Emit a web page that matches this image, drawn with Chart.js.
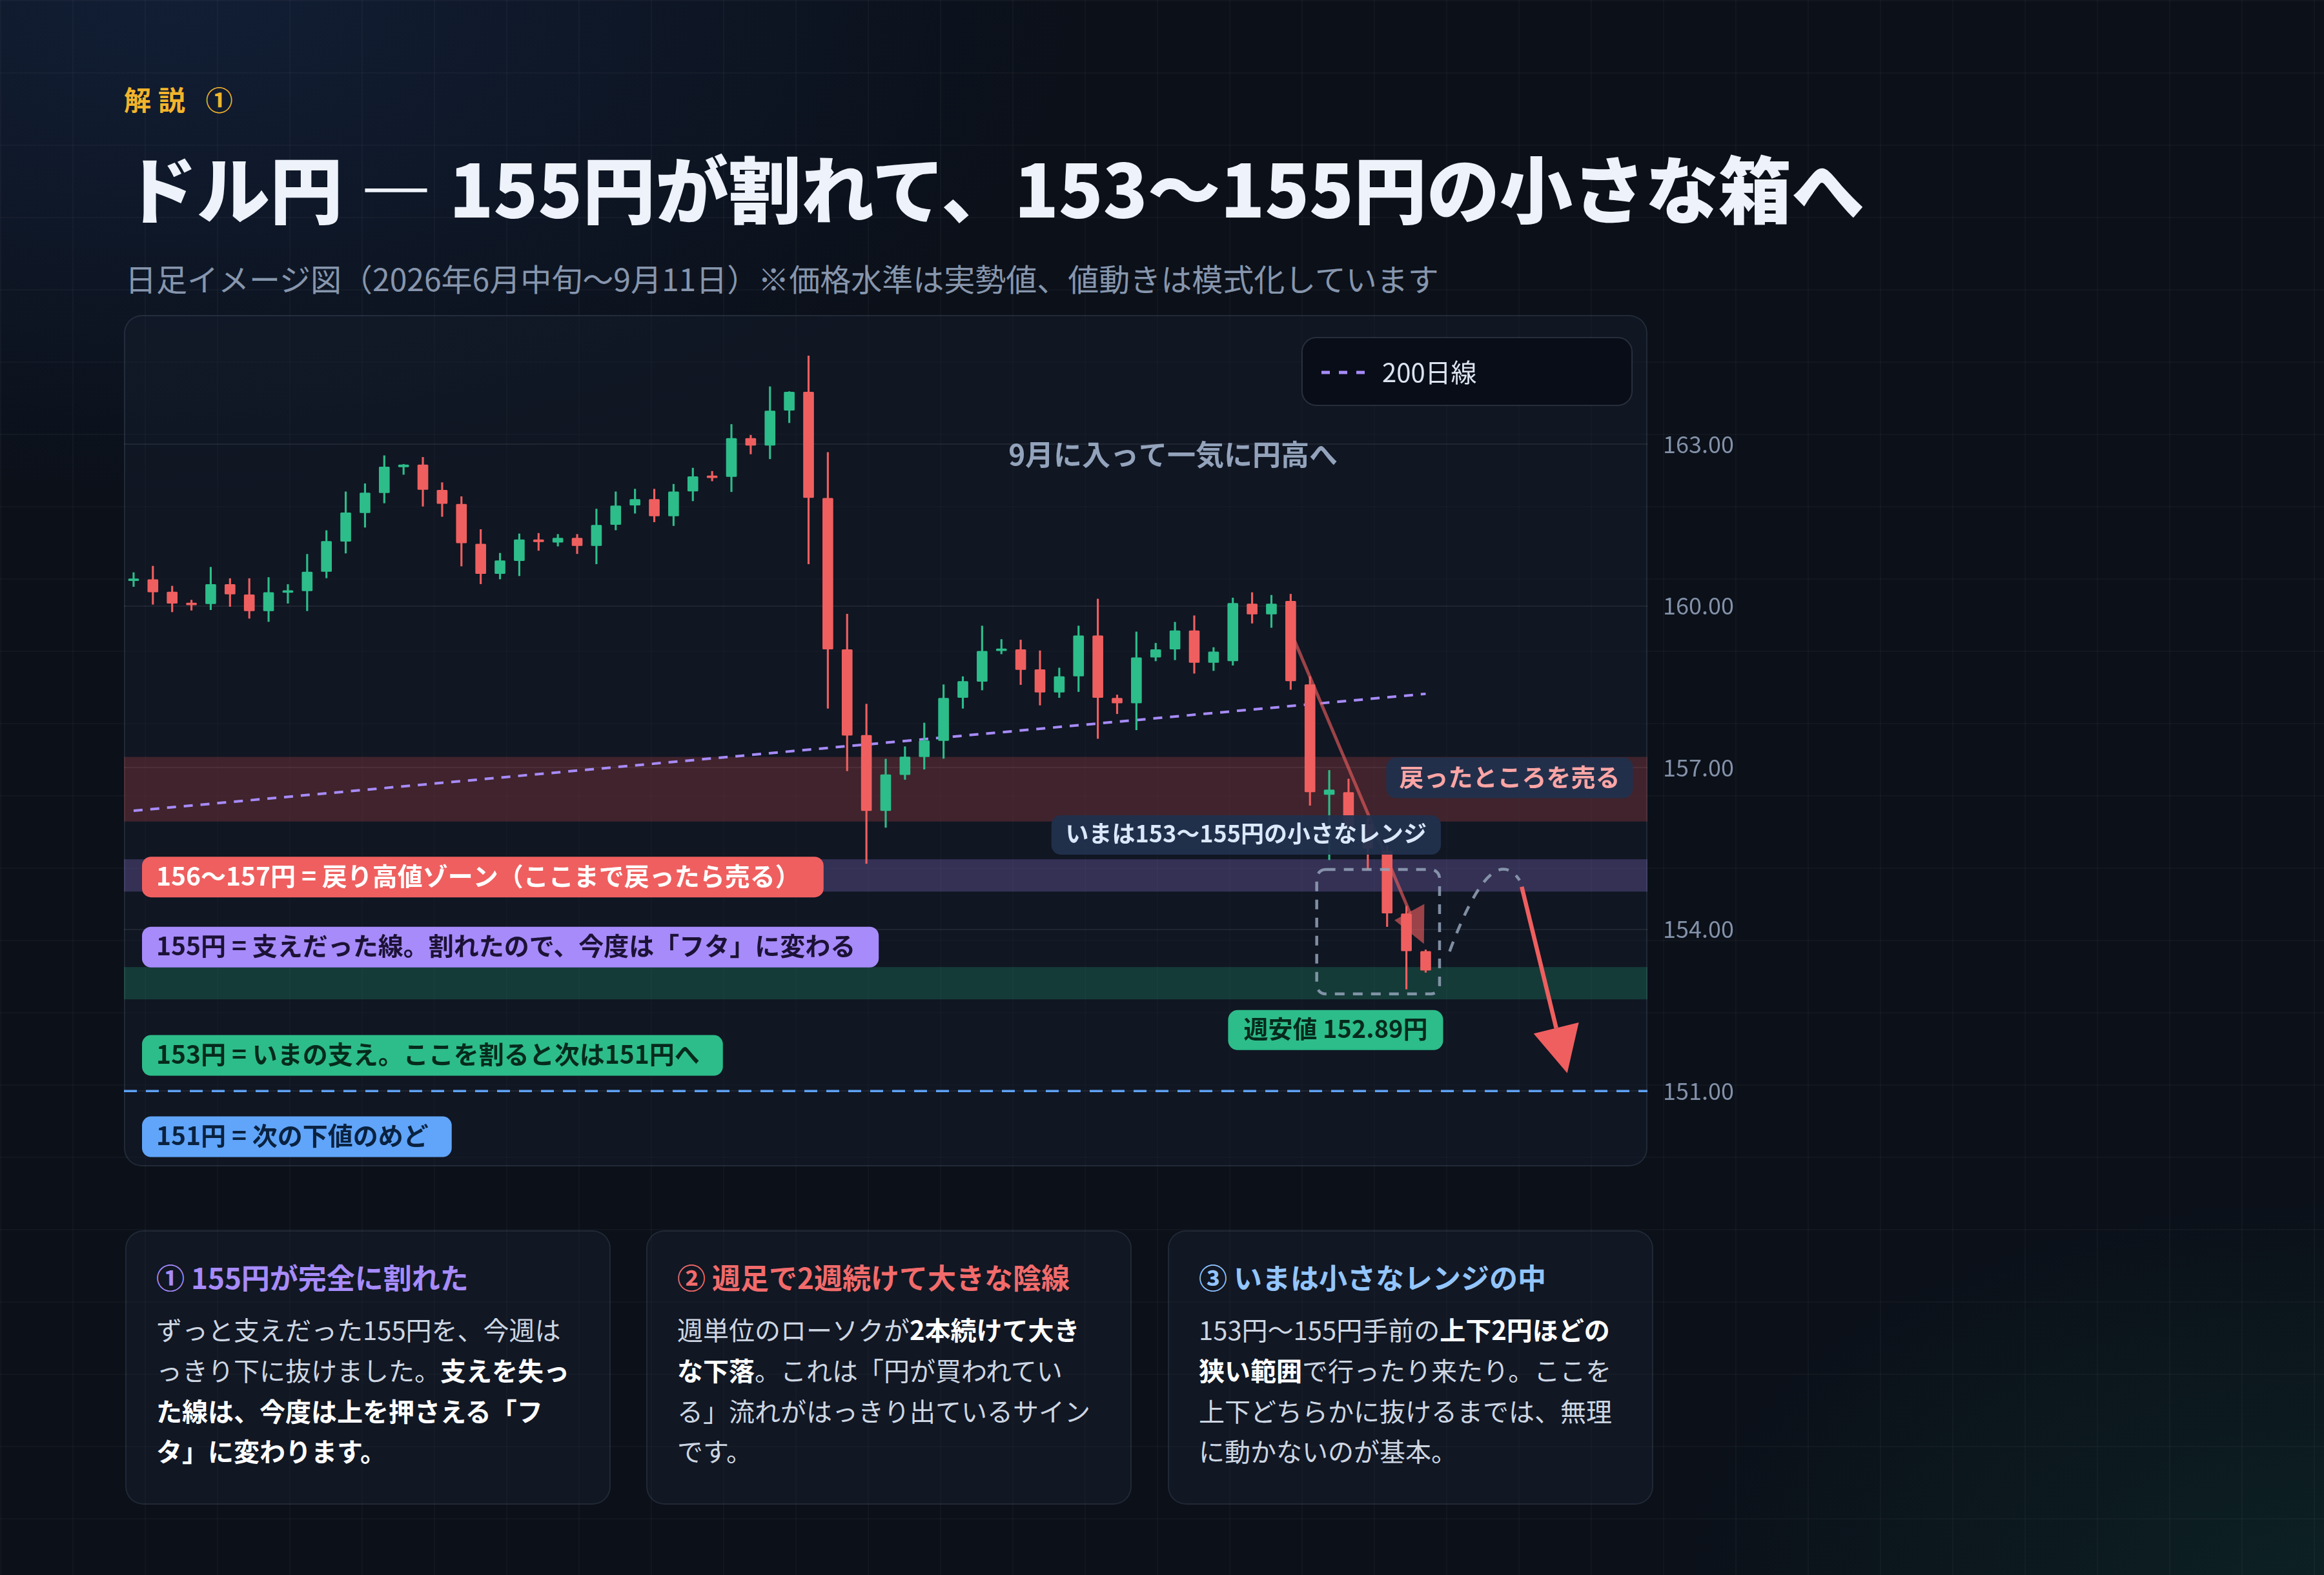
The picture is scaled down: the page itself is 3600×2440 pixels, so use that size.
<!DOCTYPE html>
<html lang="ja">
<head>
<meta charset="utf-8">
<title>ドル円 日足イメージ</title>
<script src="https://cdn.jsdelivr.net/npm/chart.js@4.4.1/dist/chart.umd.min.js"></script>
<style>
html, body { margin: 0; padding: 0; }
body {
    width: 3600px; height: 2440px; overflow: hidden; position: relative;
    font-family: "Noto Sans CJK JP", "Noto Sans", sans-serif;
    background-color: #0b1019;
    background-image:
        linear-gradient(rgba(255,255,255,0.028) 2px, transparent 2px),
        linear-gradient(90deg, rgba(255,255,255,0.028) 2px, transparent 2px),
        radial-gradient(ellipse 55% 45% at 8% 0%, rgba(40,80,150,0.22), transparent 70%),
        radial-gradient(ellipse 40% 35% at 100% 100%, rgba(20,120,90,0.16), transparent 70%);
    background-size: 112px 112px, 112px 112px, 100% 100%, 100% 100%;
}
.kicker { position: absolute; left: 192px; top: 132px; font-size: 42px; line-height: 42px; font-weight: 700; color: #f2b42c; letter-spacing: 11px; white-space: nowrap; }
.title { position: absolute; left: 192px; top: 232px; font-size: 113px; line-height: 113px; font-weight: 900; color: #eef2fa; white-space: nowrap; }
.sub { position: absolute; left: 194px; top: 406px; font-size: 48px; line-height: 48px; color: #8796ad; white-space: nowrap; }
.panel { position: absolute; left: 192px; top: 488px; width: 2360px; height: 1319px; box-sizing: border-box;
    border: 2px solid rgba(148,163,184,0.14); border-radius: 28px; background: rgba(22,30,46,0.45); }
.chartbox { position: absolute; left: 192px; top: 488px; width: 2568px; height: 1319px; }
.card { position: absolute; top: 1906px; width: 752px; height: 425px; box-sizing: border-box;
    border: 2px solid rgba(148,163,184,0.13); border-radius: 28px; background: rgba(30,38,54,0.35); }
.card .ch { position: absolute; left: 46px; top: 48px; font-size: 44px; line-height: 44px; font-weight: 700; white-space: nowrap; }
.card .cb { position: absolute; left: 46px; top: 120px; font-size: 40px; line-height: 62.8px; color: #cdd6e2; white-space: nowrap; }
.card .cb b { color: #ffffff; font-weight: 700; }
</style>
</head>
<body>
<div class="kicker">解説 ①</div>
<div class="title">ドル円 — 155円が割れて、153〜155円の小さな箱へ</div>
<div class="sub">日足イメージ図（2026年6月中旬〜9月11日）※価格水準は実勢値、値動きは模式化しています</div>

<div class="panel"></div>
<div class="chartbox"><canvas id="usdJpyDailyChart"></canvas></div>

<div class="card" style="left:194px">
    <div class="ch" style="color:#a78bfa">① 155円が完全に割れた</div>
    <div class="cb">ずっと支えだった155円を、今週は<br>っきり下に抜けました。<b>支えを失っ<br>た線は、今度は上を押さえる「フ<br>タ」に変わります。</b></div>
</div>
<div class="card" style="left:1001px">
    <div class="ch" style="color:#f26b6b">② 週足で2週続けて大きな陰線</div>
    <div class="cb">週単位のローソクが<b>2本続けて大き<br>な下落</b>。これは「円が買われてい<br>る」流れがはっきり出ているサイン<br>です。</div>
</div>
<div class="card" style="left:1809px">
    <div class="ch" style="color:#93c5fd">③ いまは小さなレンジの中</div>
    <div class="cb">153円〜155円手前の<b>上下2円ほどの<br>狭い範囲</b>で行ったり来たり。ここを<br>上下どちらかに抜けるまでは、無理<br>に動かないのが基本。</div>
</div>

<script>
// daily sessions, plus blank future days on the right
var dates = ['6/10','6/11','6/12','6/15','6/16','6/17','6/18','6/19','6/22','6/23','6/24','6/25','6/26','6/29','6/30',
    '7/1','7/2','7/3','7/6','7/7','7/8','7/9','7/10','7/13','7/14','7/15','7/16','7/17','7/20','7/21','7/22','7/23','7/24','7/27','7/28','7/29','7/30','7/31',
    '8/3','8/4','8/5','8/6','8/7','8/10','8/11','8/12','8/13','8/14','8/17','8/18','8/19','8/20','8/21','8/24','8/25','8/26','8/27','8/28','8/31',
    '9/1','9/2','9/3','9/4','9/7','9/8','9/9','9/10','9/11',
    '9/14','9/15','9/16','9/17','9/18','9/21','9/22','9/23','9/24','9/25','9/28'];

var opens  = [160.47,160.49,160.26,160.04,160.04,160.40,160.21,159.91,160.25,160.28,160.64,161.20,161.73,162.10,162.58,162.62,162.15,161.89,161.15,160.60,
    160.84,161.23,161.18,161.26,161.12,161.51,161.87,161.98,161.67,162.13,162.40,162.40,163.11,162.98,163.63,163.97,162.00,159.19,157.60,156.20,
    156.87,157.20,157.50,158.30,158.60,159.17,159.19,158.82,158.40,158.70,159.45,158.29,158.20,159.05,159.20,159.54,158.95,158.98,160.04,159.85,
    160.09,158.54,156.50,156.54,155.95,155.45,154.29,153.59];
var highs  = [160.62,160.74,160.37,160.11,160.72,160.51,160.51,160.53,160.40,160.96,161.40,162.12,162.27,162.79,162.63,162.76,162.29,162.03,161.42,160.98,
    161.34,161.35,161.33,161.33,161.80,162.12,162.17,162.17,162.26,162.56,162.50,163.37,163.17,164.07,163.98,164.64,162.85,159.85,158.18,157.16,
    157.39,157.83,158.54,158.69,159.63,159.38,159.37,159.17,158.85,159.63,160.13,158.35,159.52,159.31,159.70,159.82,159.23,160.15,160.25,160.20,
    160.22,158.69,156.95,156.79,156.05,155.55,154.43,153.62];
var lows   = [160.36,160.03,159.89,159.92,159.93,159.99,159.77,159.71,160.05,159.91,160.52,160.98,161.46,161.91,162.44,161.85,161.66,160.74,160.41,160.50,
    160.56,161.03,161.11,160.97,160.78,161.41,161.72,161.56,161.49,161.95,162.32,162.12,162.82,162.73,163.40,160.78,158.10,156.94,155.22,155.89,
    156.78,156.97,157.17,158.10,158.44,159.11,158.54,158.16,158.30,158.41,157.54,158.00,157.70,158.98,159.00,158.75,158.80,158.90,159.68,159.60,
    158.45,156.30,155.29,155.60,155.11,154.05,152.89,153.20];
var closes = [160.50,160.26,160.05,160.02,160.40,160.22,159.91,160.25,160.27,160.63,161.20,161.73,162.10,162.58,162.62,162.16,161.90,161.17,160.60,160.84,
    161.23,161.19,161.26,161.12,161.50,161.86,161.98,161.67,162.12,162.40,162.38,163.11,162.98,163.62,163.97,162.01,159.20,157.60,156.20,156.87,
    157.20,157.50,158.29,158.60,159.16,159.19,158.82,158.40,158.69,159.45,158.30,158.20,159.04,159.19,159.54,158.95,159.15,160.05,159.85,160.04,
    158.61,156.55,156.59,155.90,155.50,154.30,153.60,153.24];

var ma200Ends = [156.20, 158.37];   // 200-day line at first and last session
var yTicks = [151, 154, 157, 160, 163];

var zones = [
    { from: 156.0, to: 157.2, color: 'rgba(239,83,80,0.22)' },
    { from: 154.7, to: 155.3, color: 'rgba(167,139,250,0.24)' },
    { from: 152.7, to: 153.3, color: 'rgba(43,191,138,0.22)' }
];
var nextTarget = 151;

var UP = '#2dbd8a', DOWN = '#ef5f5f';

function roundRect(ctx, x, y, w, h, r) {
    ctx.beginPath();
    ctx.roundRect(x, y, w, h, r);
}

function pill(ctx, text, x, cy, o) {
    ctx.font = o.font;
    var padL = o.padX, padR = o.padR || o.padX;
    var w = ctx.measureText(text).width + padL + padR;
    var left = o.align === 'left' ? x : x - w / 2;
    ctx.fillStyle = o.bg;
    roundRect(ctx, left, cy - o.h / 2, w, o.h, o.r);
    ctx.fill();
    ctx.fillStyle = o.fg;
    ctx.textAlign = 'left';
    ctx.textBaseline = 'middle';
    ctx.fillText(text, left + padL, cy - 2);
}

var annotations = {
    id: 'annotations',
    beforeDatasetsDraw: function(chart) {
        var ctx = chart.ctx, a = chart.chartArea, ys = chart.scales.y;
        ctx.save();
        zones.forEach(function(z) {
            var t = ys.getPixelForValue(z.to), b = ys.getPixelForValue(z.from);
            ctx.fillStyle = z.color;
            ctx.fillRect(a.left, t, a.right - a.left, b - t);
        });
        var y151 = ys.getPixelForValue(nextTarget);
        ctx.strokeStyle = '#5ea2f5'; ctx.lineWidth = 3.5; ctx.setLineDash([20, 14]);
        ctx.beginPath(); ctx.moveTo(a.left, y151); ctx.lineTo(a.right, y151); ctx.stroke();
        ctx.restore();
    },
    afterDatasetsDraw: function(chart) {
        var ctx = chart.ctx, a = chart.chartArea, xs = chart.scales.x, ys = chart.scales.y;
        function px(i) { return xs.getPixelForValue(i); }
        function py(v) { return ys.getPixelForValue(v); }
        ctx.save();

        // falling guide + head
        ctx.strokeStyle = 'rgba(240,96,96,0.62)'; ctx.lineWidth = 5; ctx.setLineDash([]);
        ctx.beginPath(); ctx.moveTo(px(60.16), py(159.39)); ctx.lineTo(px(66.19), py(154.30)); ctx.stroke();
        ctx.fillStyle = 'rgba(240,96,96,0.62)';
        ctx.beginPath(); ctx.moveTo(px(65.38), py(154.17)); ctx.lineTo(px(66.93), py(154.47)); ctx.lineTo(px(66.91), py(153.73)); ctx.closePath(); ctx.fill();

        // range box
        ctx.strokeStyle = 'rgba(148,163,184,0.85)'; ctx.lineWidth = 4.5; ctx.setLineDash([15, 13]);
        var bx = px(61.35), by = py(155.11);
        roundRect(ctx, bx, by, px(67.72) - bx, py(152.80) - by, 14);
        ctx.stroke();

        // expected bounce path
        ctx.setLineDash([16, 14]);
        ctx.beginPath(); ctx.moveTo(px(68.24), py(153.59));
        ctx.quadraticCurveTo(px(70.41), py(155.68), px(71.87), py(154.91));
        ctx.stroke();

        // drop arrow
        ctx.setLineDash([]);
        var x0 = px(71.98), y0 = py(154.79), x1 = px(74.34), y1 = py(151.33);
        var ang = Math.atan2(y1 - y0, x1 - x0), hl = 72, hw = 36;
        var bxh = x1 - hl * Math.cos(ang), byh = y1 - hl * Math.sin(ang);
        ctx.strokeStyle = DOWN; ctx.lineWidth = 6.5;
        ctx.beginPath(); ctx.moveTo(x0, y0); ctx.lineTo(bxh, byh); ctx.stroke();
        ctx.fillStyle = DOWN;
        ctx.beginPath(); ctx.moveTo(x1, y1);
        ctx.lineTo(bxh + hw * Math.sin(ang), byh - hw * Math.cos(ang));
        ctx.lineTo(bxh - hw * Math.sin(ang), byh + hw * Math.cos(ang));
        ctx.closePath(); ctx.fill();

        // note
        ctx.font = '700 44px "Noto Sans CJK JP"'; ctx.fillStyle = '#93a3bb';
        ctx.textAlign = 'center'; ctx.textBaseline = 'middle';
        ctx.fillText('9月に入って一気に円高へ', px(53.9), py(162.78) - 2);

        // callouts
        pill(ctx, '戻ったところを売る', px(71.35), py(156.81), { font: '700 38px "Noto Sans CJK JP"', bg: 'rgba(34,50,78,0.95)', fg: '#fca5a5', padX: 20, h: 63, r: 15 });
        pill(ctx, 'いまは153〜155円の小さなレンジ', px(57.69), py(155.75), { font: '700 36px "Noto Sans CJK JP"', bg: 'rgba(34,50,78,0.95)', fg: '#dbe8fb', padX: 22, h: 61, r: 15 });
        pill(ctx, '週安値 152.89円', px(62.33), py(152.13), { font: '700 38px "Noto Sans CJK JP"', bg: '#2dbd8a', fg: '#062a1d', padX: 24, h: 62, r: 15 });

        var lx = a.left + 28;
        var side = { align: 'left', font: '700 39px "Noto Sans CJK JP"', padX: 22, padR: 36, h: 63, r: 14 };
        pill(ctx, '156〜157円 = 戻り高値ゾーン（ここまで戻ったら売る）', lx, py(154.97), Object.assign({}, side, { bg: '#ef5f5f', fg: '#ffffff' }));
        pill(ctx, '155円 = 支えだった線。割れたので、今度は「フタ」に変わる', lx, py(153.67), Object.assign({}, side, { bg: '#a78bfa', fg: '#1c1236' }));
        pill(ctx, '153円 = いまの支え。ここを割ると次は151円へ', lx, py(151.66), Object.assign({}, side, { bg: '#2dbd8a', fg: '#062a1d' }));
        pill(ctx, '151円 = 次の下値のめど', lx, py(150.15), Object.assign({}, side, { bg: '#60a5fa', fg: '#0a2240' }));

        // legend
        var gx = a.right - 535, gy = a.top + 35;
        ctx.fillStyle = 'rgba(8,12,22,0.85)'; ctx.strokeStyle = 'rgba(148,163,184,0.2)'; ctx.lineWidth = 2;
        roundRect(ctx, gx, gy, 511, 105, 22); ctx.fill(); ctx.stroke();
        ctx.strokeStyle = '#a78bfa'; ctx.lineWidth = 5; ctx.setLineDash([13, 14]);
        ctx.beginPath(); ctx.moveTo(gx + 30, gy + 54); ctx.lineTo(gx + 97, gy + 54); ctx.stroke();
        ctx.setLineDash([]);
        ctx.font = '400 40px "Noto Sans CJK JP"'; ctx.fillStyle = '#dbe4f0'; ctx.textAlign = 'left';
        ctx.fillText('200日線', gx + 124, gy + 54);

        ctx.restore();
    }
};

Chart.defaults.font.family = '"Noto Sans CJK JP", "Noto Sans", sans-serif';

var candleColors = opens.map(function(o, i) { return closes[i] >= o ? UP : DOWN; });
var maData = dates.slice(0, opens.length).map(function(d, i) {
    if (i === 0) { return ma200Ends[0]; }
    if (i === opens.length - 1) { return ma200Ends[1]; }
    return null;
});

new Chart(document.getElementById('usdJpyDailyChart'), {
    type: 'bar',
    data: {
        labels: dates,
        datasets: [
            { label: 'body', data: opens.map(function(o, i) { return [o, closes[i]]; }), backgroundColor: candleColors, barThickness: 16, minBarLength: 3, borderRadius: 1.5, borderSkipped: false, grouped: false, order: 0 },
            { label: 'wick', data: lows.map(function(l, i) { return [l, highs[i]]; }), backgroundColor: candleColors, barThickness: 2.5, grouped: false, order: 1 },
            { type: 'line', label: '200日線', data: maData, spanGaps: true, borderColor: '#a78bfa', borderWidth: 4, borderDash: [14, 12], pointRadius: 0, fill: false, order: 2 }
        ]
    },
    options: {
        responsive: true, maintainAspectRatio: false, animation: false, events: [],
        layout: { padding: 0 },
        plugins: { legend: { display: false }, tooltip: { enabled: false } },
        scales: {
            x: { type: 'category', display: false, offset: true, grid: { display: false } },
            y: {
                position: 'right', min: 149.6, max: 165.4,
                afterBuildTicks: function(s) { s.ticks = yTicks.map(function(v) { return { value: v }; }); },
                afterFit: function(s) { s.width = 208; s.paddingTop = 0; s.paddingBottom = 0; },
                border: { display: false },
                grid: { color: 'rgba(255,255,255,0.07)', lineWidth: 2, drawTicks: false },
                ticks: { padding: 24, color: '#8391a8', font: { size: 36 }, callback: function(v) { return Number(v).toFixed(2); } }
            }
        }
    },
    plugins: [annotations]
});
</script>
</body>
</html>
